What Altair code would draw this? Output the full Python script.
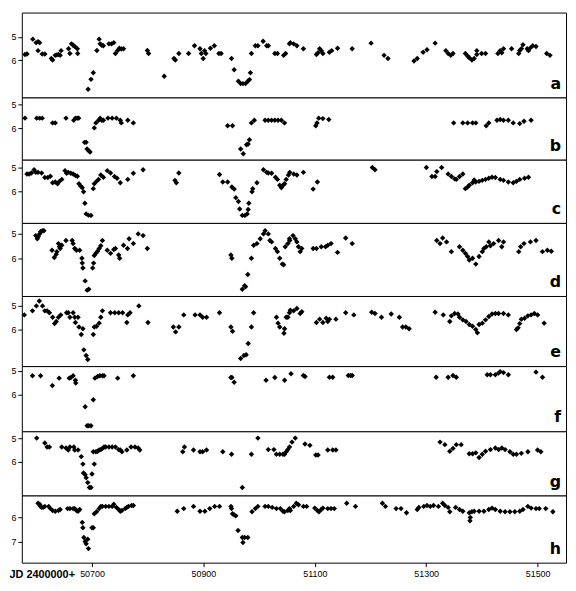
import altair as alt
import pandas as pd

# ---------------- data (JD 2400000+ , magnitude) ----------------
JD_A = [50579.7, 50583.2, 50593.7, 50599.6, 50603.1, 50606.0, 50603.1, 50610.6, 50615.3, 50627.0,
        50629.3, 50634.0, 50636.9, 50639.8, 50642.8, 50644.5, 50657.9, 50660.3, 50663.2, 50666.1,
        50669.0, 50673.7, 50674.3, 50693.0, 50698.2, 50702.3, 50708.8, 50712.8, 50714.6, 50717.5,
        50720.4, 50730.4, 50735.0, 50739.1, 50742.0, 50746.1, 50749.1, 50752.6, 50756.6, 50799.3,
        50801.6, 50829.6, 50847.2, 50849.5, 50855.9, 50873.4, 50884.0, 50893.9, 50896.2, 50899.7,
        50902.1, 50904.4, 50912.6, 50919.6, 50927.8, 50931.8, 50950.5, 50955.2, 50962.8, 50966.9,
        50971.0, 50975.6, 50979.7, 50982.7, 50984.4, 50986.2, 50993.2, 50997.8, 51007.2, 51013.6,
        51016.5, 51028.2, 51032.9, 51044.0, 51047.5, 51054.5, 51056.1, 51062.0, 51067.8, 51079.5,
        51102.9, 51105.8, 51108.7, 51111.6, 51114.5, 51126.2, 51130.3, 51140.8, 51167.1, 51201.0,
        51224.3, 51231.3, 51278.1, 51283.9, 51294.4, 51301.4, 51316.0, 51335.3, 51339.4, 51344.1,
        51348.1, 51370.3, 51374.4, 51377.3, 51382.0, 51386.1, 51390.8, 51390.8, 51399.5, 51406.5,
        51428.7, 51432.8, 51435.7, 51438.7, 51453.3, 51466.1, 51467.9, 51470.8, 51473.7, 51481.3,
        51483.6, 51487.1, 51491.2, 51497.1, 51516.3, 51522.2]
MAG_A = [5.75, 5.73, 5.10, 5.25, 5.21, 5.25, 5.59, 5.73, 5.73, 5.92,
         5.99, 5.79, 5.77, 5.75, 5.79, 5.59, 5.51, 5.71, 5.30, 5.36,
         5.41, 5.51, 5.71, 7.23, 6.81, 6.53, 5.58, 5.10, 5.30, 5.36,
         5.38, 5.30, 5.30, 5.25, 5.71, 5.58, 5.49, 5.52, 5.51, 5.58,
         5.71, 6.68, 5.92, 5.99, 5.71, 5.71, 5.38, 5.51, 5.71, 5.92,
         5.59, 5.71, 5.49, 5.38, 5.71, 5.71, 5.92, 6.40, 6.89, 6.99,
         6.99, 6.99, 6.89, 6.82, 6.53, 5.71, 5.38, 5.38, 5.19, 5.38,
         5.38, 5.71, 5.71, 5.79, 5.71, 5.30, 5.25, 5.30, 5.38, 5.51,
         5.75, 5.68, 5.51, 5.59, 5.71, 5.66, 5.59, 5.49, 5.51, 5.27,
         5.79, 5.92, 6.03, 5.92, 5.66, 5.55, 5.27, 5.59, 5.71, 5.79,
         5.71, 5.71, 5.82, 5.89, 5.99, 5.92, 5.59, 5.75, 5.71, 5.71,
         5.71, 5.59, 5.68, 5.51, 5.51, 5.71, 5.58, 5.51, 5.34, 5.51,
         5.59, 5.47, 5.38, 5.41, 5.71, 5.79]

JD_B = [50579.7, 50600.7, 50606.0, 50610.6, 50629.3, 50634.0, 50653.3, 50667.3, 50670.2, 50673.7,
        50676.1, 50686.6, 50689.5, 50691.2, 50694.2, 50696.5, 50704.1, 50707.0, 50711.7, 50714.6,
        50717.5, 50720.4, 50728.6, 50736.2, 50743.8, 50750.8, 50752.6, 50764.2, 50774.2, 50943.5,
        50952.3, 50966.9, 50971.6, 50977.4, 50980.3, 50982.7, 50986.2, 50991.4, 51010.7, 51016.5,
        51022.4, 51028.2, 51034.0, 51039.9, 51045.7, 51101.7, 51104.0, 51107.0, 51114.5, 51125.1,
        51349.3, 51365.7, 51374.4, 51383.2, 51389.0, 51407.7, 51412.4, 51427.0, 51432.8, 51438.7,
        51447.4, 51456.2, 51467.9, 51475.5, 51488.3]
MAG_B = [5.58, 5.58, 5.58, 5.58, 5.78, 5.78, 5.58, 5.67, 5.58, 5.58,
         5.58, 6.60, 6.60, 6.88, 6.95, 7.01, 5.99, 5.78, 5.67, 5.58,
         5.67, 5.67, 5.58, 5.58, 5.58, 5.67, 5.78, 5.67, 5.78, 5.90,
         5.90, 6.88, 7.08, 6.70, 6.67, 6.49, 5.78, 5.67, 5.67, 5.67,
         5.67, 5.67, 5.67, 5.67, 5.78, 5.90, 5.78, 5.58, 5.60, 5.64,
         5.78, 5.78, 5.78, 5.78, 5.78, 5.90, 5.78, 5.67, 5.64, 5.67,
         5.67, 5.78, 5.81, 5.71, 5.67]

JD_C = [50583.2, 50587.3, 50591.4, 50596.0, 50599.0, 50603.1, 50609.5, 50615.3, 50620.6, 50625.2,
        50629.3, 50634.0, 50638.1, 50641.6, 50645.7, 50651.5, 50654.4, 50657.4, 50662.0, 50666.1,
        50670.2, 50673.7, 50676.6, 50679.6, 50682.5, 50684.8, 50687.2, 50689.5, 50693.6, 50698.2,
        50702.3, 50704.1, 50708.2, 50711.7, 50715.8, 50720.4, 50727.4, 50733.3, 50740.3, 50745.0,
        50750.8, 50764.2, 50774.2, 50791.7, 50848.9, 50851.3, 50855.9, 50928.9, 50934.8, 50943.5,
        50951.1, 50955.2, 50958.1, 50962.8, 50965.1, 50969.8, 50974.5, 50978.6, 50980.3, 50981.5,
        50987.3, 50988.5, 50996.1, 51007.8, 51013.6, 51016.5, 51022.4, 51029.4, 51032.9, 51037.0,
        51039.9, 51042.8, 51045.7, 51048.6, 51052.7, 51055.0, 51062.0, 51067.8, 51079.5, 51097.0,
        51104.6, 51203.3, 51208.0, 51300.3, 51310.2, 51316.0, 51319.0, 51327.7, 51339.4, 51345.2,
        51351.1, 51354.0, 51359.8, 51365.7, 51370.3, 51374.4, 51377.3, 51383.2, 51386.1, 51389.0,
        51394.9, 51400.7, 51406.5, 51412.4, 51418.2, 51424.1, 51432.8, 51438.7, 51447.4, 51456.2,
        51462.0, 51467.9, 51476.6, 51483.6]
MAG_C = [5.27, 5.27, 5.23, 5.09, 5.20, 5.20, 5.23, 5.41, 5.41, 5.36,
         5.63, 5.60, 5.67, 5.57, 5.49, 5.13, 5.24, 5.20, 5.24, 5.27,
         5.33, 5.36, 5.67, 5.76, 5.83, 6.00, 6.47, 6.91, 6.96, 6.97,
         5.87, 5.67, 5.57, 5.49, 5.31, 5.40, 5.13, 5.23, 5.37, 5.44,
         5.63, 5.49, 5.24, 5.09, 5.53, 5.63, 5.23, 5.29, 5.60, 5.60,
         5.80, 5.89, 6.24, 6.40, 6.71, 6.97, 6.97, 6.91, 6.73, 6.47,
         6.00, 5.87, 5.63, 5.09, 5.20, 5.23, 5.24, 5.40, 5.49, 5.73,
         5.83, 5.73, 5.67, 5.49, 5.31, 5.20, 5.27, 5.31, 5.20, 5.89,
         5.60, 5.00, 5.09, 5.00, 5.37, 5.37, 5.17, 5.00, 5.27, 5.37,
         5.47, 5.49, 5.37, 5.27, 5.87, 5.80, 5.73, 5.63, 5.51, 5.60,
         5.57, 5.53, 5.49, 5.44, 5.40, 5.41, 5.49, 5.53, 5.60, 5.63,
         5.57, 5.49, 5.44, 5.40]

JD_D = [50599.0, 50601.9, 50603.6, 50606.0, 50607.7, 50610.6, 50613.6, 50628.2, 50632.3, 50635.8,
        50636.9, 50639.8, 50641.6, 50642.8, 50645.7, 50653.3, 50664.4, 50666.1, 50669.0, 50672.0,
        50677.8, 50681.9, 50682.5, 50683.6, 50687.7, 50691.2, 50694.2, 50701.2, 50702.9, 50704.1,
        50707.0, 50709.9, 50712.8, 50715.8, 50718.7, 50727.4, 50733.3, 50739.1, 50742.0, 50747.9,
        50749.6, 50756.6, 50763.7, 50766.6, 50774.2, 50782.9, 50791.7, 50799.3, 50949.4, 50951.1,
        50969.8, 50973.9, 50975.6, 50979.7, 50986.2, 50990.2, 50996.1, 51001.9, 51007.8, 51010.7,
        51016.5, 51019.4, 51022.4, 51029.4, 51032.9, 51037.0, 51041.6, 51044.0, 51046.9, 51051.6,
        51054.5, 51055.0, 51060.8, 51064.9, 51067.8, 51070.7, 51073.7, 51076.6, 51097.0, 51102.9,
        51111.6, 51119.2, 51123.3, 51129.1, 51140.8, 51155.4, 51167.1, 51319.0, 51324.8, 51329.5,
        51336.5, 51345.2, 51359.8, 51365.7, 51370.3, 51374.4, 51377.3, 51383.2, 51389.0, 51394.9,
        51400.7, 51403.6, 51407.7, 51412.4, 51415.3, 51421.1, 51429.9, 51435.7, 51438.7, 51466.1,
        51469.6, 51475.5, 51487.1, 51497.1, 51508.7, 51517.5, 51524.5]
MAG_D = [5.07, 5.20, 5.11, 5.00, 4.91, 4.87, 4.87, 5.67, 5.97, 5.84,
         5.73, 5.40, 5.53, 5.60, 5.47, 5.27, 5.27, 5.40, 5.60, 5.67,
         5.67, 6.00, 6.20, 6.40, 6.93, 7.31, 7.27, 6.40, 6.20, 5.89,
         5.80, 5.71, 5.60, 5.49, 5.27, 5.67, 5.80, 5.64, 5.60, 5.87,
         6.00, 5.47, 5.60, 5.20, 5.40, 5.00, 5.07, 5.60, 5.87, 6.00,
         7.27, 7.13, 7.17, 6.67, 6.00, 5.47, 5.40, 5.20, 5.00, 4.87,
         5.00, 5.27, 5.33, 5.60, 5.73, 6.00, 6.24, 6.27, 5.53, 5.40,
         5.20, 5.27, 5.07, 5.20, 5.33, 5.53, 5.73, 5.60, 5.60, 5.60,
         5.53, 5.53, 5.47, 5.40, 5.76, 5.17, 5.40, 5.27, 5.40, 5.17,
         5.33, 5.73, 5.53, 5.67, 5.80, 5.93, 6.07, 6.00, 6.24, 5.93,
         5.73, 5.60, 5.53, 5.33, 5.49, 5.40, 5.27, 5.53, 5.33, 5.73,
         5.53, 5.40, 5.33, 5.27, 5.73, 5.67, 5.71]

JD_E = [50578.5, 50593.1, 50600.1, 50605.4, 50611.2, 50615.3, 50619.4, 50623.5, 50629.3, 50632.8,
        50635.8, 50639.8, 50643.9, 50654.4, 50657.4, 50660.3, 50666.1, 50669.0, 50670.2, 50674.9,
        50676.6, 50683.6, 50680.7, 50685.4, 50689.5, 50692.4, 50702.3, 50704.1, 50708.2, 50712.8,
        50715.8, 50718.7, 50733.3, 50740.9, 50747.9, 50754.9, 50762.5, 50764.2, 50768.3, 50784.1,
        50800.4, 50846.0, 50850.1, 50855.9, 50864.7, 50885.1, 50893.9, 50898.6, 50905.6, 50928.9,
        50949.4, 50952.3, 50966.9, 50972.7, 50976.8, 50980.3, 50986.2, 50990.2, 51031.1, 51034.0,
        51037.0, 51044.6, 51045.7, 51048.6, 51051.6, 51054.5, 51056.1, 51062.0, 51067.8, 51073.7,
        51076.6, 51102.9, 51108.7, 51114.5, 51120.4, 51123.3, 51126.2, 51137.9, 51155.4, 51170.0,
        51202.1, 51208.0, 51219.7, 51237.2, 51251.8, 51257.6, 51263.5, 51269.3, 51316.0, 51330.6,
        51342.3, 51345.2, 51351.1, 51356.9, 51359.8, 51365.7, 51371.5, 51377.3, 51383.2, 51389.0,
        51391.9, 51394.9, 51400.7, 51406.5, 51412.4, 51418.2, 51424.1, 51429.9, 51438.7, 51447.4,
        51462.0, 51465.0, 51467.9, 51470.8, 51476.6, 51482.5, 51488.3, 51494.1, 51500.0, 51511.7]
MAG_E = [5.38, 5.21, 5.00, 4.79, 5.00, 5.21, 5.21, 5.29, 5.48, 5.75,
         5.66, 5.48, 5.38, 5.29, 5.29, 5.48, 5.29, 5.48, 5.70, 5.48,
         5.89, 5.97, 6.21, 6.86, 7.10, 7.27, 6.21, 5.89, 5.86, 5.73,
         5.48, 5.21, 5.29, 5.29, 5.29, 5.29, 5.70, 5.38, 5.29, 5.00,
         5.70, 5.89, 6.10, 5.89, 5.38, 5.38, 5.38, 5.48, 5.48, 5.29,
         5.89, 6.07, 7.23, 7.10, 7.07, 6.59, 5.89, 5.29, 5.48, 5.73,
         5.89, 6.16, 5.97, 5.48, 5.48, 5.29, 5.18, 5.21, 5.11, 5.32,
         5.25, 5.70, 5.56, 5.70, 5.52, 5.66, 5.56, 5.56, 5.29, 5.38,
         5.27, 5.32, 5.48, 5.34, 5.48, 5.89, 5.89, 5.97, 5.27, 5.38,
         5.66, 5.42, 5.32, 5.34, 5.48, 5.59, 5.66, 5.79, 5.86, 6.00,
         6.14, 5.79, 5.73, 5.59, 5.45, 5.34, 5.32, 5.32, 5.32, 5.38,
         6.00, 5.93, 5.75, 5.56, 5.52, 5.42, 5.38, 5.32, 5.38, 5.73]

JD_F = [50593.1, 50607.7, 50628.8, 50641.0, 50659.1, 50662.0, 50666.1, 50670.2, 50670.8, 50687.7,
        50691.2, 50694.2, 50698.2, 50702.3, 50705.3, 50709.9, 50714.0, 50718.7, 50721.6, 50746.1,
        50774.2, 50949.4, 50951.1, 50955.2, 51012.4, 51028.2, 51045.7, 51057.3, 51079.5, 51082.4,
        51126.2, 51132.1, 51160.1, 51164.2, 51167.1, 51317.8, 51339.4, 51348.1, 51354.0, 51409.5,
        51415.3, 51424.1, 51429.9, 51432.8, 51438.7, 51447.4, 51497.1, 51508.7]
MAG_F = [5.20, 5.20, 5.61, 5.30, 5.30, 5.27, 5.20, 5.39, 5.50, 6.49,
         7.28, 7.28, 7.28, 6.20, 5.30, 5.23, 5.20, 5.20, 5.20, 5.30,
         5.20, 5.27, 5.27, 5.47, 5.39, 5.27, 5.39, 5.12, 5.19, 5.23,
         5.26, 5.26, 5.19, 5.19, 5.19, 5.26, 5.26, 5.19, 5.26, 5.16,
         5.16, 5.16, 5.09, 5.03, 5.07, 5.16, 5.05, 5.26]

JD_G = [50600.7, 50615.3, 50619.4, 50623.5, 50645.7, 50653.3, 50657.4, 50660.3, 50667.3, 50669.0,
        50674.9, 50680.7, 50683.6, 50684.8, 50687.7, 50689.5, 50692.4, 50695.3, 50698.2, 50700.0,
        50704.1, 50702.3, 50707.0, 50709.9, 50712.8, 50715.8, 50718.7, 50721.6, 50724.5, 50730.4,
        50736.2, 50742.0, 50747.9, 50750.8, 50753.7, 50762.5, 50770.1, 50777.1, 50782.9, 50785.8,
        50862.9, 50865.9, 50882.2, 50893.9, 50898.6, 50905.6, 50934.8, 50950.5, 50969.8, 50986.2,
        50997.8, 51016.5, 51026.5, 51031.1, 51037.0, 51042.8, 51045.7, 51048.6, 51051.6, 51054.5,
        51059.1, 51064.9, 51082.4, 51091.2, 51101.7, 51105.8, 51123.3, 51132.1, 51137.9, 51324.8,
        51333.5, 51342.3, 51348.1, 51354.0, 51362.7, 51377.3, 51383.2, 51389.0, 51394.9, 51400.7,
        51406.5, 51415.3, 51424.1, 51429.9, 51435.7, 51441.6, 51450.3, 51456.2, 51462.0, 51470.8,
        51482.5, 51500.0, 51505.8]
MAG_G = [5.00, 5.21, 5.38, 5.38, 5.38, 5.42, 5.51, 5.38, 5.38, 5.51,
         5.51, 5.79, 6.11, 6.49, 6.56, 6.69, 6.90, 7.11, 7.11, 6.53,
         6.11, 5.58, 5.58, 5.56, 5.51, 5.49, 5.44, 5.38, 5.38, 5.38,
         5.38, 5.38, 5.49, 5.51, 5.58, 5.51, 5.38, 5.38, 5.42, 5.51,
         5.58, 5.38, 5.51, 5.58, 5.58, 5.51, 5.58, 5.69, 7.11, 5.69,
         5.00, 5.49, 5.49, 5.69, 5.69, 5.69, 5.69, 5.58, 5.49, 5.38,
         5.17, 5.00, 5.25, 5.31, 5.72, 5.72, 5.51, 5.51, 5.51, 5.17,
         5.28, 5.56, 5.44, 5.28, 5.28, 5.67, 5.67, 5.63, 5.83, 5.69,
         5.56, 5.49, 5.42, 5.49, 5.42, 5.49, 5.58, 5.69, 5.69, 5.65,
         5.58, 5.51, 5.58]

JD_H = [50603.1, 50606.0, 50607.7, 50609.5, 50612.4, 50615.3, 50622.3, 50625.2, 50629.3, 50634.0,
        50639.8, 50642.8, 50656.2, 50660.3, 50666.1, 50669.0, 50672.0, 50674.9, 50677.8, 50682.5,
        50683.6, 50685.4, 50687.7, 50689.5, 50692.4, 50693.6, 50700.0, 50702.3, 50704.1, 50708.2,
        50712.8, 50715.8, 50718.7, 50724.5, 50730.4, 50736.2, 50739.1, 50743.8, 50747.9, 50750.8,
        50753.7, 50759.6, 50762.5, 50765.4, 50771.2, 50774.2, 50853.0, 50864.7, 50882.2, 50893.9,
        50902.6, 50911.4, 50920.2, 50928.9, 50949.4, 50950.5, 50952.3, 50955.2, 50958.1, 50962.2,
        50969.8, 50971.0, 50973.9, 50979.7, 50987.3, 50993.2, 50997.8, 51010.7, 51016.5, 51023.5,
        51031.1, 51038.1, 51042.8, 51045.7, 51051.6, 51054.5, 51056.1, 51062.0, 51066.7, 51070.7,
        51079.5, 51085.3, 51099.9, 51104.6, 51107.5, 51111.6, 51114.5, 51123.3, 51129.1, 51135.0,
        51157.2, 51173.0, 51221.4, 51226.7, 51245.9, 51254.7, 51264.6, 51283.9, 51286.8, 51295.6,
        51301.4, 51307.3, 51313.1, 51321.9, 51329.5, 51333.5, 51339.4, 51342.3, 51352.8, 51359.8,
        51365.7, 51377.3, 51379.1, 51378.5, 51382.0, 51386.1, 51394.9, 51403.6, 51412.4, 51418.2,
        51424.1, 51432.8, 51441.6, 51450.3, 51459.1, 51467.9, 51473.7, 51482.5, 51488.3, 51497.1,
        51502.9, 51514.6, 51527.4]
MAG_H = [5.41, 5.45, 5.54, 5.58, 5.58, 5.54, 5.54, 5.63, 5.71, 5.74,
         5.71, 5.67, 5.63, 5.63, 5.63, 5.63, 5.71, 5.74, 5.67, 6.20,
         6.42, 6.82, 6.99, 7.08, 6.89, 7.28, 6.42, 6.42, 5.84, 5.76,
         5.63, 5.54, 5.54, 5.54, 5.54, 5.54, 5.45, 5.58, 5.67, 5.74,
         5.71, 5.63, 5.58, 5.54, 5.50, 5.50, 5.74, 5.63, 5.54, 5.74,
         5.74, 5.63, 5.54, 5.54, 5.54, 5.63, 5.84, 5.89, 5.93, 6.53,
         6.82, 7.03, 6.82, 6.82, 5.76, 5.63, 5.54, 5.54, 5.54, 5.58,
         5.63, 5.63, 5.74, 5.76, 5.71, 5.63, 5.71, 5.54, 5.41, 5.47,
         5.54, 5.54, 5.61, 5.71, 5.76, 5.67, 5.61, 5.63, 5.63, 5.63,
         5.41, 5.54, 5.41, 5.54, 5.63, 5.63, 5.80, 5.67, 5.58, 5.54,
         5.50, 5.54, 5.50, 5.54, 5.41, 5.50, 5.58, 5.76, 5.58, 5.67,
         5.74, 5.80, 6.00, 6.13, 5.76, 5.74, 5.74, 5.74, 5.67, 5.61,
         5.67, 5.74, 5.76, 5.76, 5.76, 5.74, 5.67, 5.54, 5.61, 5.63,
         5.63, 5.63, 5.76]

LETTERS = ["a", "b", "c", "d", "e", "f", "g", "h"]
SERIES = [(JD_A, MAG_A), (JD_B, MAG_B), (JD_C, MAG_C), (JD_D, MAG_D),
          (JD_E, MAG_E), (JD_F, MAG_F), (JD_G, MAG_G), (JD_H, MAG_H)]
Y_DOMAINS = [[3.97, 7.58], [4.71, 7.33], [4.68, 7.28], [4.55, 7.55],
             [4.58, 7.55], [4.80, 7.51], [4.71, 7.45], [5.09, 7.86]]
Y_TICKS = [[5, 6]] * 7 + [[6, 7]]
X_DOMAIN = [50574, 51551]
X_TICKS = [50700, 50900, 51100, 51300, 51500]
X_TITLE = "JD 2400000+"

# ---------------- layout ----------------
W = 551
HEIGHTS = [86, 63, 64, 74, 71, 66, 65, 68]
LABEL_FONT = "Liberation Sans, Arial, sans-serif"


def panel(i):
    jd, mag = SERIES[i]
    h = HEIGHTS[i]
    last = i == len(SERIES) - 1
    df = pd.DataFrame({"jd": jd, "mag": mag})
    if last:
        x_axis = alt.Axis(values=X_TICKS, format="d", title=X_TITLE, grid=False, domain=False,
                          tickSize=4, tickColor="black", labelFontSize=9, labelFont=LABEL_FONT,
                          labelColor="black", labelPadding=3,
                          titleFont=LABEL_FONT, titleFontSize=11, titleFontWeight="bold",
                          titleColor="black", titleAnchor="start", titleAlign="left",
                          titleBaseline="alphabetic", titleX=-13, titleY=15)
    else:
        x_axis = None
    pts = alt.Chart(df).mark_point(shape="diamond", filled=True, size=30, color="black",
                                   opacity=1, strokeWidth=0).encode(
        x=alt.X("jd:Q", scale=alt.Scale(domain=X_DOMAIN, nice=False, zero=False), axis=x_axis),
        y=alt.Y("mag:Q", scale=alt.Scale(domain=Y_DOMAINS[i], reverse=True, nice=False, zero=False),
                axis=alt.Axis(values=Y_TICKS[i], title=None, grid=False, domain=False,
                              tickSize=4, tickColor="black", labelFontSize=9,
                              labelFont=LABEL_FONT, labelColor="black", labelPadding=2)),
    )
    lab = alt.Chart(pd.DataFrame({"t": [LETTERS[i]]})).mark_text(
        align="right", baseline="alphabetic", fontSize=16, fontWeight="bold",
        font="DejaVu Sans", color="black"
    ).encode(text="t:N", x=alt.value(W - 5), y=alt.value(h - 9))
    return alt.layer(pts, lab).properties(width=W, height=h)


chart = alt.vconcat(*[panel(i) for i in range(len(SERIES))], spacing=0, bounds="flush").configure_view(
    stroke="black", strokeWidth=1, fill="white"
).properties(
    padding={"left": 0, "top": 0, "right": 1, "bottom": 0}, background="white"
)

chart.save("out.html", embed_options={"renderer": "svg", "actions": False})
